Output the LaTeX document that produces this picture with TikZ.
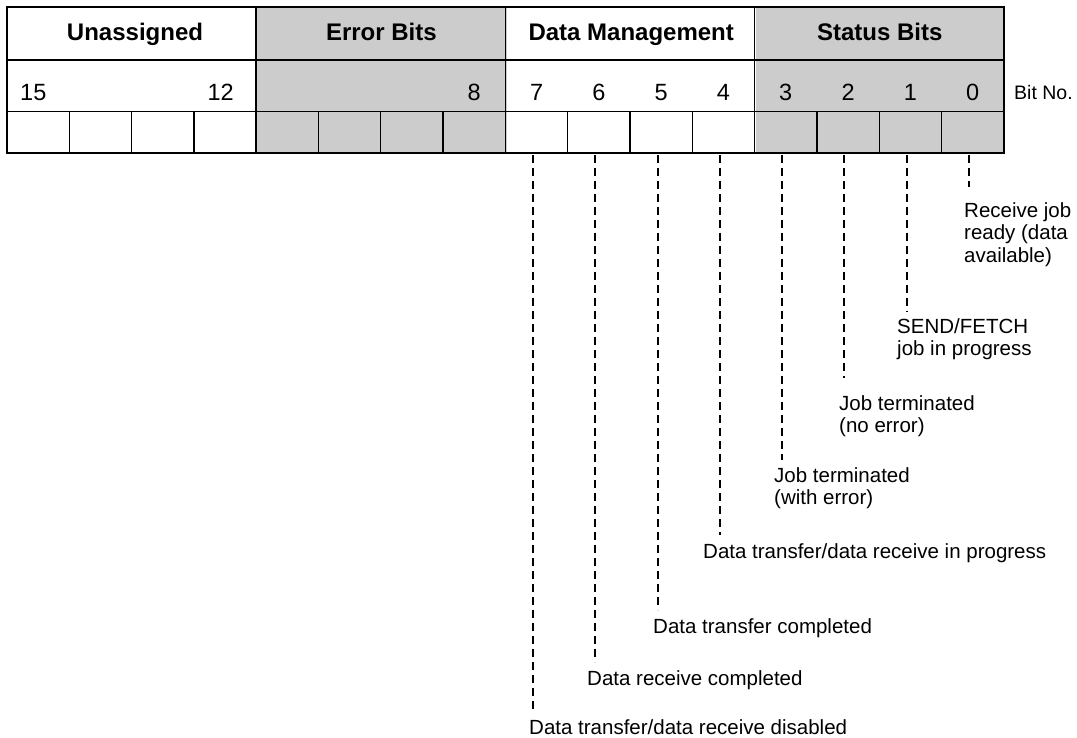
\documentclass[tikz,border=0pt]{standalone}
\usepackage{fontspec}
\setmainfont{Liberation Sans}
\usetikzlibrary{positioning}

\begin{document}
\begin{tikzpicture}[x=1pt,y=-1pt]
\tikzset{
	shadedbits/.style={fill=black!20},
	headtext/.style={font=\fontsize{24}{29}\selectfont\bfseries, inner sep=0pt, anchor=base},
	bitnum/.style={font=\fontsize{23.5}{28}\selectfont, inner sep=0pt, anchor=base},
	infotext/.style={font=\fontsize{20.5}{22.5}\selectfont, inner sep=0pt, anchor=north west, align=left},
	leader/.style={dash pattern=on 8pt off 5pt, line width=1.8pt},
}
\useasboundingbox (0,0) rectangle (1077,738);
\def\w{62.3}

            % shaded groups
            \fill[shadedbits] (256.2,7) rectangle (506.6,153);
            \fill[shadedbits] (755.8,7) rectangle (1003.8,153);

            % register frame
            \draw[line width=1.8pt] (7,7) rectangle (1003.8,153);
            \draw[line width=1.5pt] (7,60) -- (1003.8,60) (7,111.5) -- (1003.8,111.5);
            \foreach \i in {4,8,12}
                \draw[line width=1.5pt] ({7+\i*\w},7) -- ({7+\i*\w},153);
            \foreach \i in {1,2,3,5,6,7,9,10,11,13,14,15}
                \draw[line width=1.3pt] ({7+\i*\w},111.5) -- ({7+\i*\w},153);

            % group names
            \node[headtext] (unassigned) at (135,41) {Unassigned};
            \node[headtext] (errorbits)  at (381.4,41) {Error Bits};
            \node[headtext] (datamgmt)   at (631.2,41) {Data Management};
            \node[headtext] (statusbits) at (879.8,41) {Status Bits};

            % bit numbers
            \node[bitnum, anchor=base west] (num15) at (20,101) {15};
            \node[bitnum, anchor=base east] (num12) at (234,101) {12};
            \node[bitnum, anchor=base east] (num8)  at (481,101) {8};
            \foreach \b in {7,...,0}
                \node[bitnum] (num\b) at ({7+(15.5-\b)*\w},101) {\b};
            \node[font=\fontsize{19.5}{22}\selectfont, inner sep=0pt, anchor=base west] (bitno) at (1014,100) {Bit No.};

            % leaders and meanings
            \foreach \b/\x/\e/\lx/\ly/\txt in {
                0/969/187/964/202/{Receive job\\ready (data\\available)},
                1/907/312/897/318/{SEND/FETCH\\job in progress},
                2/844/378/839/395/{Job terminated\\(no error)},
                3/782/460/774/467/{Job terminated\\(with error)},
                4/720/535/703/543/{Data transfer/data receive in progress},
                5/658/610/653/618/{Data transfer completed},
                6/595/662/587/670/{Data receive completed},
                7/533/711/529/719/{Data transfer/data receive disabled}}
            {
                \coordinate (top\b) at (\x,155);
                \coordinate (end\b) at (\x,\e);
                \draw[leader] (top\b) -- (end\b);
                \node[infotext] (info\b) at (\lx,\ly) {\txt};
            }
\end{tikzpicture}
\end{document}
